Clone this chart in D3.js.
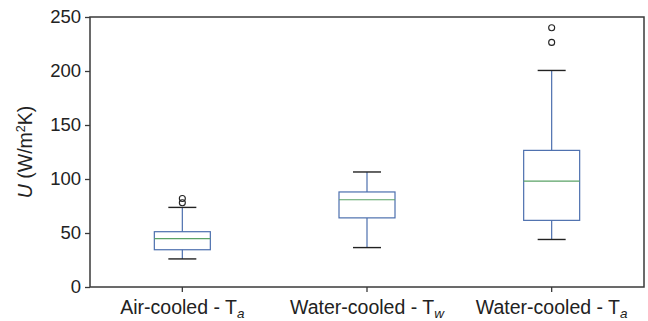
<!DOCTYPE html>
<html>
<head>
<meta charset="utf-8">
<script src="https://cdn.jsdelivr.net/npm/d3@7"></script>
<style>
  body { margin: 0; background: #fff; }
  svg { font-family: "Liberation Sans", Arial, sans-serif; }
</style>
</head>
<body>
<svg id="chart" width="648" height="321"></svg>
<script>
// box stats
const categories = ["Air-cooled - T|a", "Water-cooled - T|w", "Water-cooled - T|a"];
const whiskerLow = [26, 36.5, 44];
const q1 = [34.5, 64, 61.7];
const median = [44.7, 80.8, 98];
const q3 = [51.2, 88, 126.5];
const whiskerHigh = [73.7, 106.5, 200.5];
const outliers = [[78, 82], [], [226.5, 240]];
const yTicks = [0, 50, 100, 150, 200, 250];

let margin = {top: 17, right: 4, bottom: 34, left: 90};
let width = 648 - margin.left - margin.right;
let height = 321 - margin.top - margin.bottom;

let svg = d3.select("#chart");
let g = svg.append("g").attr("transform", `translate(${margin.left},${margin.top})`);

let x = d3.scaleBand().domain(categories).range([0, width]);
let y = d3.scaleLinear().domain([0, 250]).range([height, 0]);

let boxes = categories.map((c, i) => ({
  cat: c, lo: whiskerLow[i], q1: q1[i], med: median[i], q3: q3[i], hi: whiskerHigh[i], out: outliers[i]
}));

let axisColor = "#3a3a3a";
let boxW = 56, capW = 28;

// y axis
let yAxis = g.append("g").call(d3.axisLeft(y).tickValues(yTicks).tickSize(5).tickPadding(4));
yAxis.select(".domain").remove();
yAxis.selectAll("line").attr("stroke", axisColor).attr("stroke-width", 1.3);
yAxis.selectAll("text").attr("font-size", 18.5).attr("fill", "#222");

// x axis
let xAxis = g.append("g").attr("transform", `translate(0,${height})`)
  .call(d3.axisBottom(x).tickSize(5).tickFormat(""));
xAxis.select(".domain").remove();
xAxis.selectAll("line").attr("stroke", axisColor).attr("stroke-width", 1.3);

// category labels with subscript
g.selectAll(".xlab")
  .data(categories)
  .join("text")
  .attr("class", "xlab")
  .attr("x", d => x(d) + x.bandwidth() / 2)
  .attr("y", height + 27)
  .attr("text-anchor", "middle")
  .attr("font-size", 19.5)
  .attr("fill", "#222")
  .each(function (d) {
    let parts = d.split("|");
    let t = d3.select(this);
    t.append("tspan").text(parts[0]);
    t.append("tspan").text(parts[1]).attr("font-style", "italic")
      .attr("font-size", 13.5).attr("dy", 4);
  });

// frame
g.append("rect")
  .attr("width", width).attr("height", height)
  .attr("fill", "none").attr("stroke", axisColor).attr("stroke-width", 1.5);

// y label
let ylab = svg.append("text")
  .attr("transform", `translate(32,${margin.top + height / 2}) rotate(-90)`)
  .attr("text-anchor", "middle")
  .attr("font-size", 19.5)
  .attr("fill", "#222");
ylab.append("tspan").text("U").attr("font-style", "italic");
ylab.append("tspan").text(" (W/m");
ylab.append("tspan").text("2").attr("font-size", 12.5).attr("dy", -7);
ylab.append("tspan").text("K)").attr("dy", 7);

// boxes
let bg = g.selectAll(".box").data(boxes).join("g")
  .attr("class", "box")
  .attr("transform", d => `translate(${x(d.cat) + x.bandwidth() / 2},0)`);

let blue = "#4c6fae";

bg.append("line").attr("y1", d => y(d.q3)).attr("y2", d => y(d.hi))
  .attr("stroke", blue).attr("stroke-width", 1.2);
bg.append("line").attr("y1", d => y(d.q1)).attr("y2", d => y(d.lo))
  .attr("stroke", blue).attr("stroke-width", 1.2);

bg.append("rect")
  .attr("x", -boxW / 2).attr("width", boxW)
  .attr("y", d => y(d.q3)).attr("height", d => y(d.q1) - y(d.q3))
  .attr("fill", "none").attr("stroke", blue).attr("stroke-width", 1.2);

bg.append("line").attr("x1", -boxW / 2).attr("x2", boxW / 2)
  .attr("y1", d => y(d.med)).attr("y2", d => y(d.med))
  .attr("stroke", "#5aa266").attr("stroke-width", 1.2);

for (let k of ["lo", "hi"]) {
  bg.append("line").attr("x1", -capW / 2).attr("x2", capW / 2)
    .attr("y1", d => y(d[k])).attr("y2", d => y(d[k]))
    .attr("stroke", "#222").attr("stroke-width", 1.4);
}

bg.selectAll("circle").data(d => d.out).join("circle")
  .attr("cy", d => y(d)).attr("r", 3)
  .attr("fill", "none").attr("stroke", "#222").attr("stroke-width", 1.1);
</script>
</body>
</html>
